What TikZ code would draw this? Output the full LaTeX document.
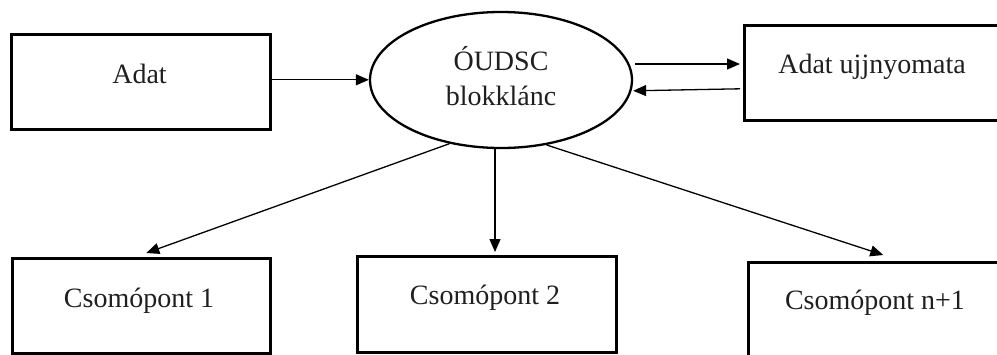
\documentclass[tikz,border=0pt]{standalone}
\usepackage{fontspec}
\setmainfont{Liberation Serif}
\usetikzlibrary{arrows.meta,shapes.geometric,calc}
\begin{document}
\begin{tikzpicture}[x=1pt,y=-1pt,
  box/.style={draw, line width=2.6pt, rectangle, inner sep=0pt, anchor=north west},
  lbl/.style={anchor=base, font=\fontsize{28}{34}\selectfont, inner sep=0pt, text=black!88},
  arr/.style={line width=1.3pt, -{Triangle[length=13pt,width=11pt]}}]
\useasboundingbox (0,0) rectangle (997,354);
\clip (0,0) rectangle (997,354);

% boxes
\node[box, minimum width=259pt, minimum height=95pt] (adat) at (10,33) {};
\node[box, minimum width=262pt, minimum height=95pt] (fp) at (743,24) {};
\node[box, minimum width=258pt, minimum height=95pt] (n1) at (11,257) {};
\node[box, minimum width=259pt, minimum height=96pt] (n2) at (356,255) {};
\node[box, minimum width=258pt, minimum height=105pt] (nn) at (747,261) {};

% central ellipse
\node[ellipse, draw, line width=2.3pt, minimum width=262pt, minimum height=136pt, inner sep=0pt] (ell) at (501,80) {};

% labels
\node[lbl] (tadat) at (139.5,83) {Adat};
\node[lbl] (tell1) at (501,70) {ÓUDSC};
\node[lbl] (tell2) at (501,105) {blokklánc};
\node[lbl] (tfp) at (872,73) {Adat ujjnyomata};
\node[lbl] (tn1) at (139,307) {Csomópont 1};
\node[lbl] (tn2) at (485,304) {Csomópont 2};
\node[lbl] (tnn) at (875,309) {Csomópont n+1};

% connectors
\draw[arr] ([yshift=2pt]adat.east) coordinate (a0) -- (a0 -| ell.west);
\draw[arr] ([xshift=2pt,yshift=16pt]ell.east) coordinate (a1) -- ([xshift=-3pt]a1 -| fp.west);
\draw[arr] ([xshift=-3pt,yshift=-16pt]fp.west) coordinate (a2) -- ([yshift=-2pt]a2 -| ell.east);
\draw[arr] (ell.231) -- ([xshift=5pt,yshift=4pt]n1.north);
\draw[arr] ([xshift=-6pt]ell.south) coordinate (b2) -- ([yshift=3pt]b2 |- n2.north);
\draw[arr] (ell.305) -- ([xshift=6pt,yshift=6pt]nn.north);
\end{tikzpicture}
\end{document}
